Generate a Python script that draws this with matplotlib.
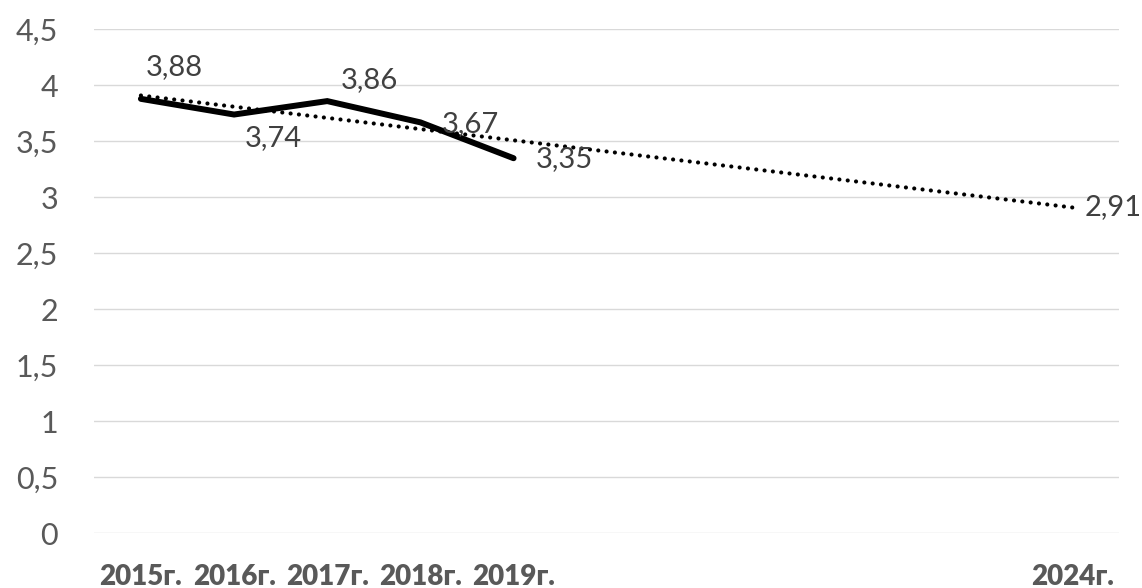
import numpy as np
import matplotlib
matplotlib.use("Agg")
import matplotlib.pyplot as plt

plt.rcParams['font.family'] = ['Lato', 'DejaVu Sans']

# categories on the x axis (blank slots between 2019 and 2024)
categories = ['2015г.', '2016г.', '2017г.', '2018г.', '2019г.', '', '', '', '', '', '2024г.']
actual_vals = [3.88, 3.74, 3.86, 3.67, 3.35]
forecast_idx = [0, 10]
forecast_vals = [3.91, 2.91]
yticks = [0, 0.5, 1, 1.5, 2, 2.5, 3, 3.5, 4, 4.5]

# label offsets in pixels, like excel's auto placement
actual_offsets = [(33, 32), (39, -24), (42, 21), (50, -2), (51, -1)]
forecast_offset = (41, 0)

fig = plt.figure(figsize=(11.42, 5.88), dpi=100)
ax = fig.add_axes([0.0826, 0.0927, 0.98 - 0.0826, 0.950 - 0.0927])

x = np.arange(len(actual_vals))
ax.plot(forecast_idx, forecast_vals, color='black', linewidth=3.0,
        linestyle=(0, (0.01, 2.0)), dash_capstyle='round', zorder=3)
ax.plot(x, actual_vals, color='black', linewidth=4.3,
        solid_capstyle='round', solid_joinstyle='miter', zorder=2)

for xi, v, off in zip(x, actual_vals, actual_offsets):
    ax.annotate(f"{v:.2f}".replace('.', ','), (xi, v), xytext=off,
                textcoords='offset pixels', ha='center', va='center',
                fontsize=21, color='#404040', zorder=4)
ax.annotate(f"{forecast_vals[-1]:.2f}".replace('.', ','),
            (forecast_idx[-1], forecast_vals[-1]), xytext=forecast_offset,
            textcoords='offset pixels', ha='center', va='center',
            fontsize=21, color='#404040', annotation_clip=False)

ax.set_xlim(-0.5, len(categories) - 0.5)
ax.set_ylim(0, 4.5)
ax.set_yticks(yticks)
ax.set_yticklabels([f"{t:g}".replace('.', ',') for t in yticks])
ax.set_xticks(np.arange(len(categories)))
ax.set_xticklabels(categories, fontweight='heavy')

ax.grid(axis='y', color='#d9d9d9', linewidth=1.0)
ax.set_axisbelow(True)
for s in ax.spines.values():
    s.set_visible(False)
ax.tick_params(axis='y', length=0, pad=26, labelsize=22, labelcolor='#595959')
ax.tick_params(axis='x', length=0, pad=22, labelsize=20, labelcolor='#595959')

plt.savefig("out.png", dpi=100)
